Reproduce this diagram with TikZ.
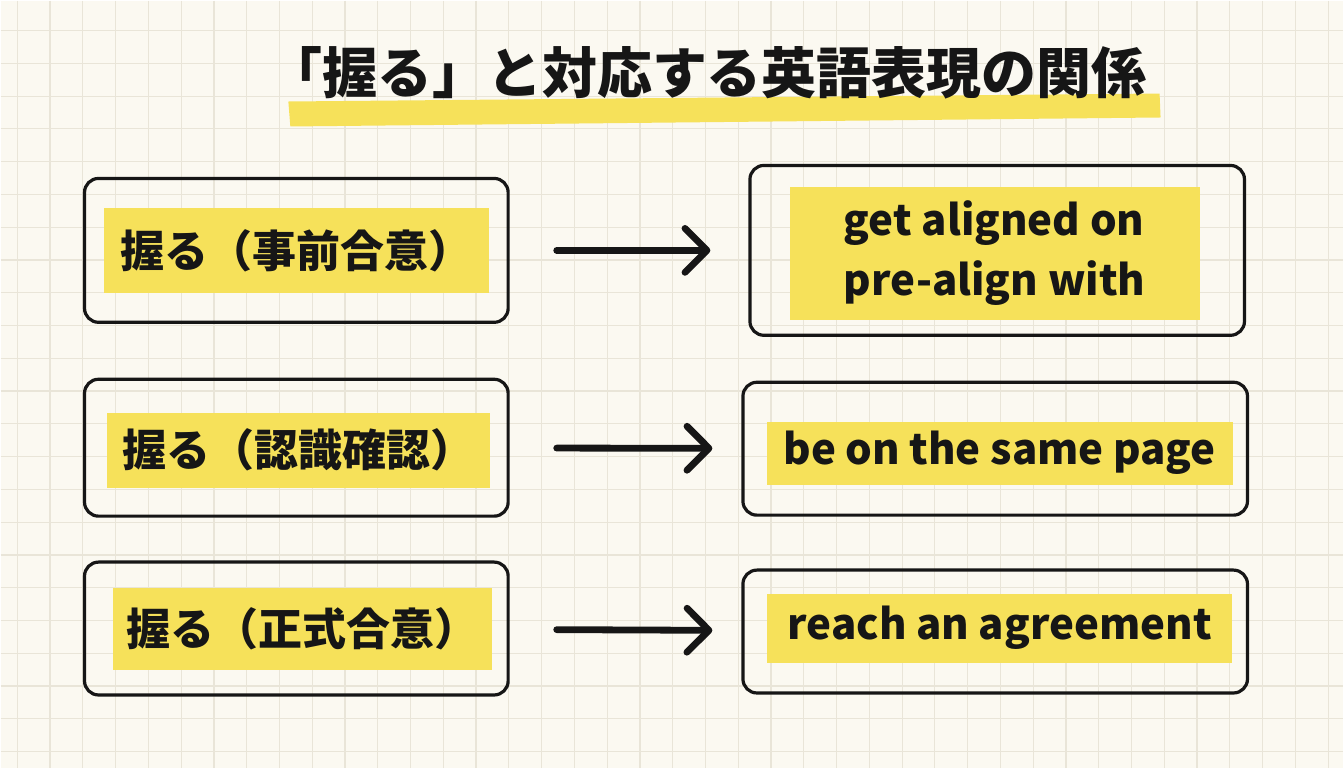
\documentclass[tikz,border=0pt]{standalone}
\usepackage{fontspec}
\usepackage{tikz}
\usetikzlibrary{arrows.meta}
\newfontfamily\jpfont{Noto Sans CJK JP}
\definecolor{col0}{HTML}{161616}
\definecolor{col1}{HTML}{F6E15A}
\definecolor{col8}{HTML}{FBF9F1}
\definecolor{col9}{HTML}{E9E5D8}

\begin{document}
\begin{tikzpicture}[x=0.5pt, y=-0.5pt]
    \tikzstyle{box} += [draw=col0, line width=1.6pt, rounded corners=7pt];
    \tikzstyle{hlt} += [fill=col1, inner sep=0pt];
    \tikzstyle{jp} += [font=\jpfont\bfseries\fontsize{22}{26}\selectfont, text=col0];
    \tikzstyle{en} += [font=\jpfont\bfseries\fontsize{21}{30}\selectfont, text=col0];
    \tikzstyle{arr} += [draw=col0, line width=3.4pt, line cap=round, -{Straight Barb[length=11pt, width=22pt, round]}];

    % paper
    \fill[col8] (0,0) rectangle (1344,768);
    \foreach \i in {0,...,40}
      \draw[col9, line width=0.6pt] ({16.7+32.8*\i},0) -- ({16.7+32.8*\i},768);
    \foreach \j in {0,...,22}
      \draw[col9, line width=0.6pt] (0,{30+32.8*\j}) -- (1344,{30+32.8*\j});
    \useasboundingbox (0,0) rectangle (1344,768);

    % title
    \fill[col1] (288,101) -- (1160,93) -- (1161,117) -- (290,126) -- cycle;
    \node (title) at (707, 72) [jp, font=\jpfont\bfseries\fontsize{27.5}{32}\selectfont]{「握る」と対応する英語表現の関係};

    % boxes
    \node (l_1) at (296, 250)   [box, minimum width=212pt, minimum height=72pt]{};
    \node (l_2) at (296, 447.5) [box, minimum width=212pt, minimum height=68.5pt]{};
    \node (l_3) at (296, 628.5) [box, minimum width=212pt, minimum height=66.5pt]{};
    \node (r_1) at (997.5, 250) [box, minimum width=247.5pt, minimum height=85pt]{};
    \node (r_2) at (995.5, 448.5) [box, minimum width=252.5pt, minimum height=66.5pt]{};
    \node (r_3) at (995.5, 631.5) [box, minimum width=252.5pt, minimum height=61.5pt]{};

    % highlighted texts
    \node (t_1) at (296, 250) [hlt, jp, minimum width=193pt, minimum height=42.5pt]{握る（事前合意）};
    \node (t_2) at (298, 450) [hlt, jp, minimum width=191.5pt, minimum height=37.5pt]{握る（認識確認）};
    \node (t_3) at (302, 629) [hlt, jp, minimum width=190pt, minimum height=41pt]{握る（正式合意）};
    \node (u_1) at (995, 253) [hlt, en, align=left, minimum width=205pt, minimum height=66.5pt]{get aligned on\\pre-align with};
    \node (u_2) at (1000, 453) [hlt, en, minimum width=233pt, minimum height=31.5pt]{be on the same page};
    \node (u_3) at (1000, 628) [hlt, en, minimum width=232.5pt, minimum height=34.5pt]{reach an agreement};

    \begin{scope}[arr]
      \draw[shorten <=23.5pt, shorten >=19pt] (l_1) -- (r_1);
      \draw[shorten <=23.5pt, shorten >=14.5pt] (l_2) -- (r_2);
      \draw[shorten <=23.5pt, shorten >=14.5pt] (l_3) -- (r_3);
    \end{scope}
\end{tikzpicture}
\end{document}
